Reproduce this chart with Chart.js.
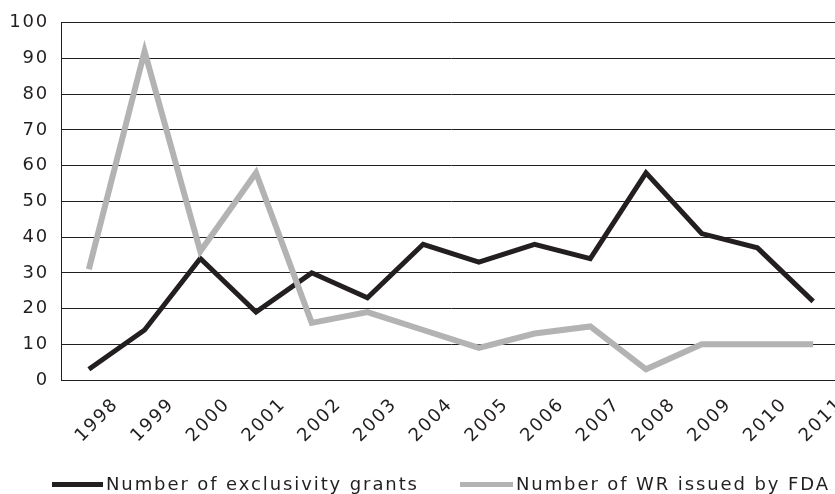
<!DOCTYPE html>
<html>
<head>
<meta charset="utf-8">
<script src="https://cdn.jsdelivr.net/npm/chart.js@4"></script>
<style>
  html, body { margin:0; padding:0; background:#fff; overflow:hidden; width:835px; height:494px; }
  #wrap { position:absolute; left:0; top:0; width:841px; height:494px; }
  .leg-line { position:absolute; height:5px; }
  .leg-text { position:absolute; font-family:"DejaVu Sans"; font-size:18px; line-height:20px; letter-spacing:1.9px; color:#231f20; white-space:nowrap; }
</style>
</head>
<body>
<div id="wrap"><canvas id="c"></canvas></div>
<div class="leg-line" style="left:52px;top:482px;width:51px;background:#231f20;"></div>
<div class="leg-text" id="l1" style="left:106px;top:474px;"></div>
<div class="leg-line" style="left:460px;top:482px;width:53px;background:#b3b3b3;"></div>
<div class="leg-text" id="l2" style="left:516px;top:474px;"></div>
<script>
const years = ["1998","1999","2000","2001","2002","2003","2004","2005","2006","2007","2008","2009","2010","2011"];
const exclusivityGrants = [3, 14, 34, 19, 30, 23, 38, 33, 38, 34, 58, 41, 37, 22];
const wrIssued = [31, 92, 36, 58, 16, 19, 14, 9, 13, 15, 3, 10, 10, 10];
const seriesNames = ["Number of exclusivity grants", "Number of WR issued by FDA"];

document.getElementById('l1').textContent = seriesNames[0];
document.getElementById('l2').textContent = seriesNames[1];

const spacingPlugin = {
  id: 'spacing',
  beforeDraw(chart) { chart.ctx.letterSpacing = '1.8px'; }
};

new Chart(document.getElementById('c'), {
  type: 'line',
  data: {
    labels: years,
    datasets: [
      { label: seriesNames[0], data: exclusivityGrants, borderColor: '#231f20', borderWidth: 5, pointRadius: 0, tension: 0, borderJoinStyle: 'miter', borderCapStyle: 'butt', order: 1 },
      { label: seriesNames[1], data: wrIssued, borderColor: '#b3b3b3', borderWidth: 6, pointRadius: 0, tension: 0, borderJoinStyle: 'miter', borderCapStyle: 'butt', order: 0 }
    ]
  },
  options: {
    responsive: true,
    maintainAspectRatio: false,
    animation: false,
    devicePixelRatio: 1,
    layout: { padding: { left: 0, right: 0, top: 19, bottom: 0 } },
    plugins: { legend: { display: false }, tooltip: { enabled: false } },
    scales: {
      x: {
        offset: true,
        grid: { display: false },
        border: { display: true, color: '#231f20', width: 1 },
        ticks: { font: { family: 'DejaVu Sans', size: 18 }, color: '#231f20', minRotation: 45, maxRotation: 45, autoSkip: false, padding: 6, labelOffset: 27 },
        afterFit(scale) { scale.height = 114; }
      },
      y: {
        min: 0, max: 100,
        grid: { color: '#231f20', lineWidth: 1, drawTicks: false },
        border: { display: true, color: '#231f20', width: 1 },
        ticks: { stepSize: 10, font: { family: 'DejaVu Sans', size: 18 }, color: '#231f20', padding: 12 },
        afterFit(scale) { scale.width = 61; }
      }
    }
  },
  plugins: [spacingPlugin]
});
</script>
</body>
</html>
